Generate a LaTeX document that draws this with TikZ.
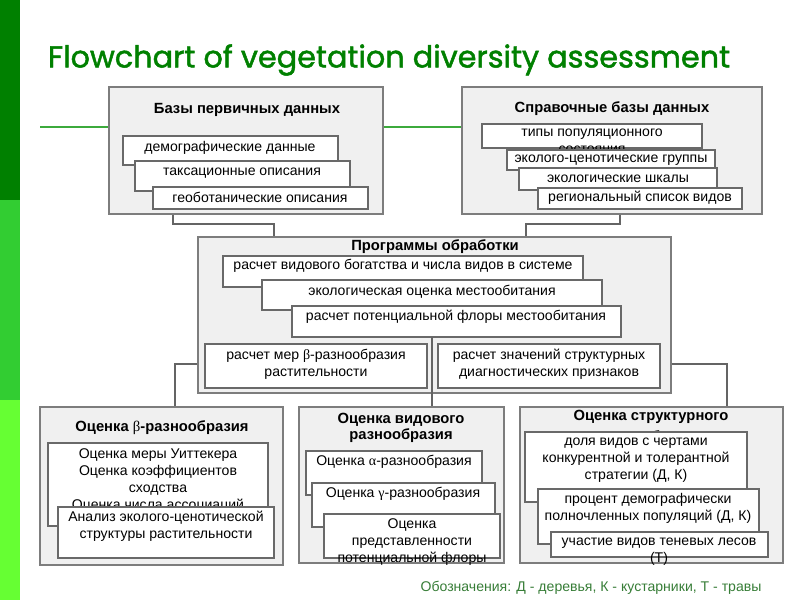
\documentclass[tikz,border=0pt]{standalone}
\usepackage{fontspec}
\setmainfont{Liberation Sans}
\newfontfamily\titlefont[FakeBold=1.6]{Poppins}
\newfontfamily\greekfont{Liberation Serif}
\usetikzlibrary{
    positioning,
    calc,
    fit
}

\definecolor{barDark}{RGB}{0,128,0}
\definecolor{barMid}{RGB}{50,205,50}
\definecolor{barLight}{RGB}{102,255,51}
\definecolor{titleGreen}{RGB}{0,128,0}
\definecolor{ruleGreen}{RGB}{60,170,60}
\definecolor{noteGreen}{RGB}{55,125,55}
\definecolor{groupFill}{RGB}{240,240,240}
\definecolor{groupLine}{RGB}{125,125,125}
\definecolor{itemLine}{RGB}{105,105,105}
\definecolor{linkGray}{RGB}{100,100,100}

\newcommand{\gr}[1]{{\greekfont\mdseries #1}}

\tikzset{
    % --- Grey group box (one stage of the flowchart) ---
    group box/.style = {
        rectangle, draw=groupLine, fill=groupFill,
        line width=1pt, inner sep=0pt
    },
    % --- White item box inside a group ---
    item box/.style = {
        rectangle, draw=itemLine, fill=white,
        line width=0.8pt, inner sep=0pt
    },
    % --- Bold group heading ---
    group head/.style = {
        font=\bfseries\fontsize{10.5}{11.5}\selectfont,
        align=center, inner sep=0pt
    },
    % --- Item text ---
    item text/.style = {
        font=\fontsize{10}{12}\selectfont,
        align=center, inner sep=0pt
    },
    % --- Connector between groups ---
    link/.style = {
        draw=linkGray, line width=0.8pt
    },
    % --- Green rule under the title ---
    rule line/.style = {
        draw=ruleGreen, line width=1.2pt
    }
}

\begin{document}
\begin{tikzpicture}[x=0.025cm, y=-0.025cm]

\useasboundingbox (0,0) rectangle (800,600);

% ---------------------------------------------------------
% Side bar and title
% ---------------------------------------------------------
\fill[barDark]  (0,0)   rectangle (20,200);
\fill[barMid]   (0,200) rectangle (20,400);
\fill[barLight] (0,400) rectangle (20,600);

\node[font=\titlefont\fontsize{22}{24}\selectfont, text=titleGreen, inner sep=0pt]
    (Title) at (389,60) {\resizebox{17.05cm}{!}{Flowchart of vegetation diversity assessment}};

\coordinate (RuleStart) at (40,127);
\coordinate (RuleEnd)   at (462,127);
\draw[rule line] (RuleStart) -- (RuleEnd);

% ---------------------------------------------------------
% Primary databases
% ---------------------------------------------------------
\node[group box, fit={(109,87) (383,214)}] (PrimDB) {};
\node[group head] (PrimDB-t) at (247,110) {Базы первичных данных};

\node[item box, fit={(123,136) (338,165)}] (Demo) {};
\node[item text] (Demo-t) at (230,148) {демографические данные};
\node[item box, fit={(135,161) (350,191)}] (Tax) {};
\node[item text] (Tax-t) at (242,173) {таксационные описания};
\node[item box, fit={(153,187) (368,209)}] (Geo) {};
\node[item text] (Geo-t) at (260,197) {геоботанические описания};

% ---------------------------------------------------------
% Reference databases
% ---------------------------------------------------------
\node[group box, fit={(462,87) (762,214)}] (RefDB) {};
\node[group head] (RefDB-t) at (612,109) {Справочные базы данных};

\node[item box, fit={(482,124) (702,148)}] (PopType) {};
\node[item text] (PopType-t) at (592,141.5) {типы популяционного\\состояния};
\node[item box, fit={(507,150) (715,170)}] (EcoGroup) {};
\node[item text] (EcoGroup-t) at (611,160) {эколого-ценотические группы};
\node[item box, fit={(519,168) (717,190)}] (EcoScale) {};
\node[item text] (EcoScale-t) at (618,179) {экологические шкалы};
\node[item box, fit={(538,188) (742,209)}] (SpList) {};
\node[item text] (SpList-t) at (640,198) {региональный список видов};

% ---------------------------------------------------------
% Processing programs
% ---------------------------------------------------------
\node[group box, fit={(198,237) (671,393)}] (Prog) {};
\node[group head] (Prog-t) at (435,247) {Программы обработки};

\node[item box, fit={(223,256) (583,287)}] (Rich) {};
\node[item text] (Rich-t) at (403,266) {расчет видового богатства и числа видов в системе};
\node[item box, fit={(262,280) (602,310)}] (Habitat) {};
\node[item text] (Habitat-t) at (432,292) {экологическая оценка местообитания};
\node[item box, fit={(292,306) (621,337)}] (PotFlora) {};
\node[item text] (PotFlora-t) at (456,317) {расчет потенциальной флоры местообитания};
\node[item box, fit={(205,344) (427,388)}] (BetaCalc) {};
\node[item text] (BetaCalc-t) at (316,364.5) {расчет мер \gr{β}-разнообразия\\растительности};
\node[item box, fit={(438,344) (660,388)}] (StructCalc) {};
\node[item text] (StructCalc-t) at (549,364.5) {расчет значений структурных\\диагностических признаков};

% ---------------------------------------------------------
% Beta diversity assessment
% ---------------------------------------------------------
\node[group box, fit={(40,407) (283,565)}] (Beta) {};
\node[group head] (Beta-t) at (162,428) {Оценка \gr{β}-разнообразия};

\node[item box, fit={(48,443) (268,526)}] (Whit) {};
\node[item text] (Whit-t) at (158,480.5) {Оценка меры Уиттекера\\Оценка коэффициентов\\сходства\\Оценка числа ассоциаций};
\node[item box, fit={(58,507) (274,558)}] (EcoStruct) {};
\node[item text] (EcoStruct-t) at (166,526.5) {Анализ эколого-ценотической\\структуры растительности};

% ---------------------------------------------------------
% Species diversity assessment
% ---------------------------------------------------------
\node[group box, fit={(299,407) (504,563)}] (Species) {};
\node[group head] (Species-t) at (401,428) {Оценка видового\\разнообразия};

\node[item box, fit={(306,451) (482,495)}] (Alpha) {};
\node[item text] (Alpha-t) at (394,462) {Оценка \gr{α}-разнообразия};
\node[item box, fit={(312,483) (495,527)}] (Gamma) {};
\node[item text] (Gamma-t) at (403,494) {Оценка \gr{γ}-разнообразия};
\node[item box, fit={(324,514) (500,558)}] (Repr) {};
\node[item text] (Repr-t) at (412,542) {Оценка\\представленности\\потенциальной флоры};

% ---------------------------------------------------------
% Structural diversity assessment
% ---------------------------------------------------------
\node[group box, fit={(520,407) (783,563)}] (Struct) {};
\node[group head] (Struct-t) at (651,427.5) {Оценка структурного\\[3pt]разнообразия};

\node[item box, fit={(525,432) (747,502)}] (Strat) {};
\node[item text] (Strat-t) at (636,460.5) {доля видов с чертами\\конкурентной и толерантной\\стратегии (Д, К)};
\node[item box, fit={(538,489) (759,544)}] (FullPop) {};
\node[item text] (FullPop-t) at (648,508) {процент демографически\\полночленных популяций (Д, К)};
\node[item box, fit={(551,532) (768,557)}] (Shade) {};
\node[item text] (Shade-t) at (659,552) {участие видов теневых лесов\\(Т)};

% ---------------------------------------------------------
% Connectors
% ---------------------------------------------------------
\coordinate (J1) at (173,224);
\coordinate (J2) at (274,224);
\draw[link] (PrimDB.south -| J1) -- (J1) -- (J2) -- (J2 |- Prog.north);

\coordinate (J3) at (620,224);
\coordinate (J4) at (526,224);
\draw[link] (RefDB.south -| J3) -- (J3) -- (J4) -- (J4 |- Prog.north);

\coordinate (J5) at (175,364);
\draw[link] (Prog.west |- J5) -- (J5) -- (J5 |- Beta.north);

\coordinate (J6) at (727,364);
\draw[link] (Prog.east |- J6) -- (J6) -- (J6 |- Struct.north);

\coordinate (J7) at (432,337);
\draw[link] (J7) -- (J7 |- Species.north);

% ---------------------------------------------------------
% Legend
% ---------------------------------------------------------
\node[item text, text=noteGreen] (Legend) at (591,588)
    {Обозначения: Д - деревья, К - кустарники, Т - травы};

\end{tikzpicture}
\end{document}
